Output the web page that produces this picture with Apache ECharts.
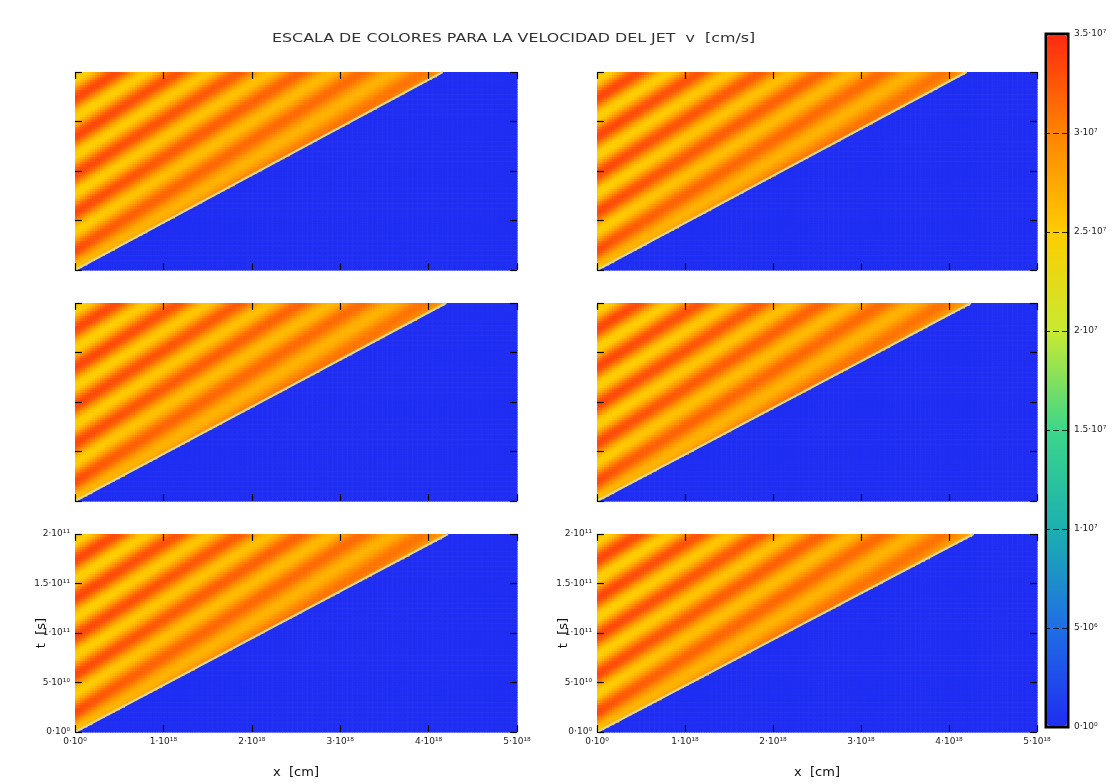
<!DOCTYPE html>
<html>
<head>
<meta charset="utf-8">
<script src="https://cdn.jsdelivr.net/npm/echarts@6/dist/echarts.min.js"></script>
<style>
  html, body { margin: 0; padding: 0; background: #fff; }
  #chart { width: 1116px; height: 784px; }
</style>
</head>
<body>
<div id="chart"></div>
<script>
// units: x in 1e18 cm, t in 1e11 s, v in 1e7 cm/s
const xTicks = [0, 1, 2, 3, 4, 5];
const tTicks = [0, 0.5, 1, 1.5, 2];
const vTicks = [0, 0.5, 1, 1.5, 2, 2.5, 3, 3.5];
const xExp = 18, tExp = 11, vExp = 7;

// x where the jet head reaches the top edge, one per panel (row by row)
const frontTopX = [4.16, 4.20, 4.20, 4.25, 4.22, 4.28];

// red band centres where they cross x = 0, and the bands' slope dt/dx
const redBandT = [0.2, 0.58, 0.96, 1.36, 1.74];
const bandSlope = 0.554;

// velocities
const vRed = 3.35;
const vYellow = 2.45;
const headFade = 0.6;   // how much band contrast is lost near the head
const vAmbient = 0;

const barColors = ['#1f2ef2', '#1f6fe4', '#1cb0b0', '#3cd68a', '#c8ea30', '#ffcc00', '#ff8400', '#ff2a10'];

const NX = 177, NT = 80;

const SUP = { '0': '⁰', '1': '¹', '2': '²', '3': '³', '4': '⁴', '5': '⁵', '6': '⁶', '7': '⁷', '8': '⁸', '9': '⁹', '-': '⁻' };
function sci(v, exp) {
  if (v === 0) return '0·10⁰';
  let e = exp, m = v;
  while (m < 1) { m *= 10; e -= 1; }
  const ms = Number.isInteger(m) ? String(m) : m.toFixed(1);
  return ms + '·10' + String(e).split('').map(c => SUP[c]).join('');
}

function buildField(xTop) {
  const xMax = xTicks[xTicks.length - 1], tMax = tTicks[tTicks.length - 1];
  const dx = xMax / NX, dt = tMax / NT;
  const frontSlope = tMax / xTop;
  const period = (redBandT[redBandT.length - 1] - redBandT[0]) / (redBandT.length - 1);
  const mid = (vRed + vYellow) / 2, amp = (vRed - vYellow) / 2;
  const data = [];
  for (let i = 0; i < NX; i++) {
    const x = (i + 0.5) * dx;
    const tf = frontSlope * x;
    for (let j = 0; j < NT; j++) {
      const t = (j + 0.5) * dt;
      let v;
      if (t < tf) v = vAmbient;
      else {
        const xh = t / frontSlope;
        const fade = 1 - headFade * (x / xh);
        const ph = (t - bandSlope * x - redBandT[0]) / period;
        v = mid + amp * fade * Math.cos(2 * Math.PI * ph);
      }
      data.push([x, t, v]);
    }
  }
  return { data, dx, dt };
}

const chart = echarts.init(document.getElementById('chart'), null, { renderer: 'canvas' });

const grids = [], xAxes = [], yAxes = [], series = [];
const colLeft = [75, 597], colWidth = [442, 440], rowTop = [72, 303, 534];
const tick = { show: true, inside: true, length: 7, lineStyle: { color: '#000', width: 1.2 } };
const labelStyle = { fontSize: 9, color: '#222', fontFamily: 'DejaVu Sans' };
const nameStyle = { fontSize: 13, color: '#111', fontFamily: 'DejaVu Sans' };

frontTopX.forEach((xTop, k) => {
  const col = k % 2, row = Math.floor(k / 2);
  const last = row === 2;
  grids.push({ left: colLeft[col], top: rowTop[row], width: colWidth[col], height: 198 });
  const common = { type: 'value', gridIndex: k, z: 5, splitLine: { show: false }, axisLine: { show: false, onZero: false }, axisTick: tick };
  const xBase = Object.assign({ min: xTicks[0], max: xTicks[xTicks.length - 1], interval: 1 }, common);
  const yBase = Object.assign({ min: tTicks[0], max: tTicks[tTicks.length - 1], interval: 0.5 }, common);
  xAxes.push(Object.assign({}, xBase, {
    position: 'bottom',
    axisLabel: { show: last, margin: 5, ...labelStyle, formatter: v => sci(v, xExp) },
    name: last ? 'x  [cm]' : '', nameLocation: 'middle', nameGap: 34, nameMoveOverlap: false,
    nameTextStyle: nameStyle
  }));
  xAxes.push(Object.assign({}, xBase, { position: 'top', axisLabel: { show: false } }));
  yAxes.push(Object.assign({}, yBase, {
    position: 'left',
    axisLabel: { show: last, margin: 5, ...labelStyle, formatter: v => sci(v, tExp) },
    name: last ? 't  [s]' : '', nameLocation: 'middle', nameGap: 27, nameRotate: 90, nameMoveOverlap: false,
    nameTextStyle: nameStyle
  }));
  yAxes.push(Object.assign({}, yBase, { position: 'right', axisLabel: { show: false } }));

  const f = buildField(xTop);
  series.push({
    type: 'custom',
    xAxisIndex: 2 * k,
    yAxisIndex: 2 * k,
    z: 1,
    silent: true,
    animation: false,
    progressive: 0,
    progressiveThreshold: 1e7,
    encode: { x: 0, y: 1 },
    data: f.data,
    renderItem: function (params, api) {
      const p0 = api.coord([api.value(0) - f.dx / 2, api.value(1) + f.dt / 2]);
      const p1 = api.coord([api.value(0) + f.dx / 2, api.value(1) - f.dt / 2]);
      return {
        type: 'rect',
        shape: { x: p0[0], y: p0[1], width: p1[0] - p0[0] + 0.6, height: p1[1] - p0[1] + 0.6 },
        style: { fill: api.visual('color') }
      };
    }
  });
});

// jet head: thin pale line along the front of each panel
frontTopX.forEach((xTop, k) => {
  series.push({
    type: 'line',
    xAxisIndex: 2 * k,
    yAxisIndex: 2 * k,
    z: 2,
    silent: true,
    symbol: 'none',
    animation: false,
    lineStyle: { color: '#e4d98a', width: 2 },
    data: [[xTicks[0], tTicks[0]], [xTop, tTicks[tTicks.length - 1]]]
  });
});

// colour bar frame + its tick labels
const cb = { left: 1047, top: 35, width: 20, height: 691 };
grids.push({ left: cb.left - 1, top: cb.top - 1, width: cb.width + 2, height: cb.height + 2, show: true, borderColor: '#000', borderWidth: 3, backgroundColor: 'transparent' });
xAxes.push({ type: 'value', gridIndex: 6, show: false, axisLine: { onZero: false } });
yAxes.push({
  type: 'value', gridIndex: 6, position: 'right', min: vTicks[0], max: vTicks[vTicks.length - 1], interval: 0.5, z: 10,
  splitLine: { show: false }, axisLine: { show: false, onZero: false },
  axisTick: { show: true, inside: true, length: 21, lineStyle: { color: '#000', width: 1, type: [6, 3], opacity: 0.8 } },
  axisLabel: { margin: 6, ...labelStyle, formatter: v => sci(v, vExp) }
});

chart.setOption({
  animation: false,
  graphic: [{
    type: 'text', x: 272, y: 32, scaleX: 1.22,
    style: { text: 'ESCALA DE COLORES PARA LA VELOCIDAD DEL JET  v  [cm/s]', fontSize: 13, fontFamily: 'DejaVu Sans', fill: '#333' }
  }],
  grid: grids,
  xAxis: xAxes,
  yAxis: yAxes,
  visualMap: {
    type: 'continuous',
    min: vTicks[0], max: vTicks[vTicks.length - 1],
    dimension: 2,
    seriesIndex: [0, 1, 2, 3, 4, 5],
    calculable: false,
    hoverLink: false,
    left: cb.left, top: cb.top, padding: 0,
    itemWidth: cb.width, itemHeight: cb.height,
    inRange: { color: barColors }
  },
  series: series
});
</script>
</body>
</html>
